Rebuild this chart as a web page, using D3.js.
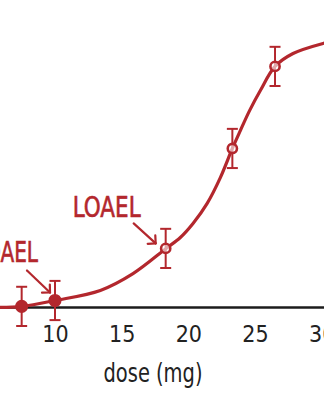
<!DOCTYPE html>
<html>
<head>
<meta charset="utf-8">
<script src="https://cdn.jsdelivr.net/npm/d3@7"></script>
<style>
  html, body { margin: 0; padding: 0; background: #fff; }
  svg { display: block; }
  .hand { font-family: "Liberation Sans Narrow", "DejaVu Sans Condensed", "Roboto Condensed", "Liberation Sans", sans-serif; font-stretch: condensed; }
</style>
</head>
<body>
<svg id="chart" width="324" height="400"></svg>
<script>
// ---- data ----
const doses      = [7.5, 10, 18.3, 23.3, 26.5];          // mg
const responses  = [0.4, 2.5, 21.1, 56.8, 86.1];         // response
const errors     = [7, 7, 7, 7, 7];                      // ± error
const fitDoses   = [5.5, 7.5, 10, 13.4, 15.85, 18.33, 19.4, 20.35, 21.4, 22.4, 23.3, 23.9, 24.6, 25.4, 26.5, 27.85, 30.1, 30.6];
const fitValues  = [0, 0.4, 2.5, 6.1, 12.1, 21.1, 25, 30, 37.1, 46.4, 56.8, 63.2, 70.4, 77.5, 86.1, 90.7, 94.3, 94.8];
const xTicks     = [10, 15, 20, 25, 30];
const xLabel     = "dose (mg)";
const annLabels  = ["NOAEL", "LOAEL"];
const annDoses   = [10, 18.3];

// ---- drawing ----
const W = 324, H = 400;
const red = "#b3272d";
const svg = d3.select("#chart");

const x = d3.scaleLinear().domain([10, 30]).range([55, 321.7]);
const y = d3.scaleLinear().domain([0, 100]).range([307.5, 27.5]);

// axis baseline (full width)
svg.append("line")
  .attr("x1", 0).attr("x2", W)
  .attr("y1", y(0)).attr("y2", y(0))
  .attr("stroke", "#1c1c1c").attr("stroke-width", 2.4);

// tick labels
const axis = d3.axisBottom(x).tickValues(xTicks).tickSize(0).tickPadding(14)
  .tickFormat(d3.format("d"));
const gAx = svg.append("g").attr("transform", `translate(0,${y(0)})`).call(axis);
gAx.select(".domain").remove();
gAx.selectAll("text")
  .attr("class", "hand")
  .attr("font-size", 23)
  .attr("fill", "#222")
  .attr("dy", "0.9em");

svg.append("text")
  .attr("class", "hand")
  .attr("x", 153).attr("y", 382)
  .attr("text-anchor", "middle")
  .attr("font-size", 27)
  .attr("fill", "#222")
  .attr("textLength", 99).attr("lengthAdjust", "spacingAndGlyphs")
  .text(xLabel);

// fitted curve
const fit = fitDoses.map((d, i) => [d, fitValues[i]]);
svg.append("path")
  .datum(fit)
  .attr("fill", "none")
  .attr("stroke", red)
  .attr("stroke-width", 3.2)
  .attr("stroke-linecap", "round")
  .attr("d", d3.line().x(d => x(d[0])).y(d => y(d[1])).curve(d3.curveCatmullRom.alpha(0.5)));

// data points with error bars
const pts = doses.map((d, i) => ({ d, r: responses[i], e: errors[i] }));
const g = svg.append("g");
const cap = 5.5;
pts.forEach(p => {
  const cx = x(p.d), cy = y(p.r), yt = y(p.r + p.e), yb = y(p.r - p.e);
  g.append("line").attr("x1", cx).attr("x2", cx).attr("y1", yt).attr("y2", yb)
    .attr("stroke", red).attr("stroke-width", 2);
  [yt, yb].forEach(yy => g.append("line")
    .attr("x1", cx - cap).attr("x2", cx + cap).attr("y1", yy).attr("y2", yy)
    .attr("stroke", red).attr("stroke-width", 2));
  const filled = p.d <= 10;
  g.append("circle").attr("cx", cx).attr("cy", cy)
    .attr("r", filled ? 5.8 : 4.6)
    .attr("fill", filled ? red : "#ffffff")
    .attr("fill-opacity", filled ? 1 : 0.6)
    .attr("stroke", red)
    .attr("stroke-width", filled ? 1.5 : 2.6);
});

// annotations (offsets in px from the annotated point)
const annLayout = [
  { tx: -17, ty: -39, a0: [-28, -30], a1: [-5, -8] },
  { tx: -25, ty: -31, a0: [-32, -25], a1: [-10, -5] }
];
annLabels.forEach((lab, i) => {
  const idx = doses.indexOf(annDoses[i]);
  const px = x(annDoses[i]), py = y(responses[idx]);
  const L = annLayout[i];
  svg.append("text")
    .attr("class", "hand")
    .attr("x", px + L.tx).attr("y", py + L.ty)
    .attr("text-anchor", "end")
    .attr("font-size", 29)
    .attr("fill", red)
    .attr("stroke", red).attr("stroke-width", 0.6)
    .attr("textLength", 68).attr("lengthAdjust", "spacingAndGlyphs")
    .text(lab);
  const x0 = px + L.a0[0], y0 = py + L.a0[1], x1 = px + L.a1[0], y1 = py + L.a1[1];
  svg.append("line").attr("x1", x0).attr("y1", y0).attr("x2", x1).attr("y2", y1)
    .attr("stroke", red).attr("stroke-width", 2.2).attr("stroke-linecap", "round");
  const ang = Math.atan2(y1 - y0, x1 - x0), hl = 8;
  [Math.PI - Math.PI / 4, Math.PI + Math.PI / 4].forEach(da => {
    svg.append("line").attr("x1", x1).attr("y1", y1)
      .attr("x2", x1 + hl * Math.cos(ang + da)).attr("y2", y1 + hl * Math.sin(ang + da))
      .attr("stroke", red).attr("stroke-width", 2.2).attr("stroke-linecap", "round");
  });
});
</script>
</body>
</html>
